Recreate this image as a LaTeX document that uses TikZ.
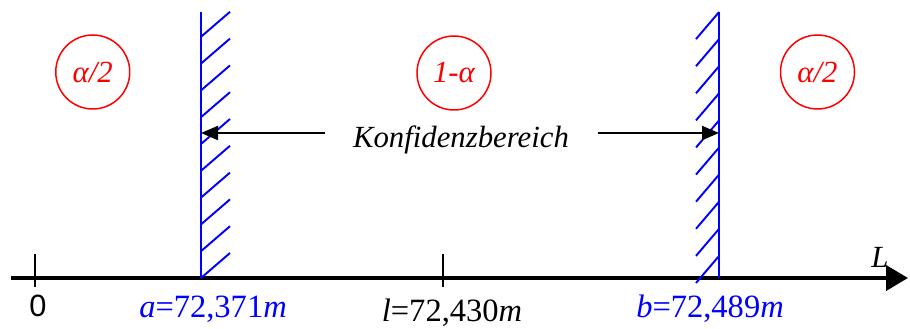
\documentclass[tikz,border=0pt]{standalone}
\usepackage{fontspec}
\setmainfont{Liberation Serif}
\newfontfamily\zifferfont{Liberation Sans}
\usepackage{tikz}
\usetikzlibrary{arrows.meta,positioning}
\definecolor{rouge}{RGB}{255,0,0}
\definecolor{bleu}{RGB}{0,0,255}

\tikzset{
  zone/.style={circle,draw=rouge,line width=0.85pt,minimum size=1.48cm,inner sep=0pt,text=rouge,font=\fontsize{17.5}{21}\selectfont\itshape},
  grenze/.style={bleu,line width=1.1pt},
  hatch/.style={bleu,line width=1.1pt},
  wert/.style={anchor=base,inner sep=0pt,font=\fontsize{18.5}{22}\selectfont},
  pfeil/.style={line width=1.1pt,-{Triangle[length=0.34cm,width=0.28cm]}},
}

\begin{document}
\begin{tikzpicture}[font=\fontsize{17.5}{21}\selectfont]
\useasboundingbox (0,0) rectangle (18.2,6.58);

% Achse
\coordinate (O) at (0.22,1.02);
\coordinate (E) at (18.16,1.02);
\draw[line width=2.3pt,-{Triangle[length=0.44cm,width=0.5cm]}] (O) -- (E);
\draw[line width=1.7pt] (0.7,0.84) -- (0.7,1.5);
\draw[line width=1.7pt] (8.86,0.84) -- (8.86,1.5);
\node[anchor=base] (achse) at (17.6,1.22) {\textit{L}};

% Grenzen
\coordinate (aBot) at (4.02,1.02);
\coordinate (aTop) at (4.02,6.34);
\coordinate (bBot) at (14.38,1.02);
\coordinate (bTop) at (14.38,6.34);
\draw[grenze] (aBot) -- (aTop);
\draw[grenze] (bBot) -- (bTop);
\foreach \k in {0,...,9}{
  \draw[hatch] ([yshift=\k*5.36mm]aBot) -- ++(0.58,0.5);
  \draw[hatch] ([shift={(-0.46,-0.1+\k*0.542)}]bBot) -- ++(0.46,0.54);
}

% Bereiche
\node[zone] (links) at (1.855,5.14) {α/2};
\node[zone] (mitte) at (9.08,5.12) {1-α};
\node[zone] (rechts) at (16.35,5.14) {α/2};

% Konfidenzbereich
\node[anchor=base] (konf) at (9.22,3.62) {\textit{Konfidenzbereich}};
\coordinate (pl) at (6.5,3.92);
\coordinate (pr) at (11.96,3.92);
\draw[pfeil] (pl) -- (aBot |- pl);
\draw[pfeil] (pr) -- (bBot |- pr);

% Werte
\node[wert,font=\fontsize{17.5}{21}\selectfont\zifferfont] (null) at (0.76,0.24) {0};
\node[wert,text=bleu] (aWert) at (4.26,0.22) {\textit{a}=72,371\textit{m}};
\node[wert] (lWert) at (9.04,0.14) {\textit{l}=72,430\textit{m}};
\node[wert,text=bleu] (bWert) at (14.2,0.22) {\textit{b}=72,489\textit{m}};
\end{tikzpicture}
\end{document}
